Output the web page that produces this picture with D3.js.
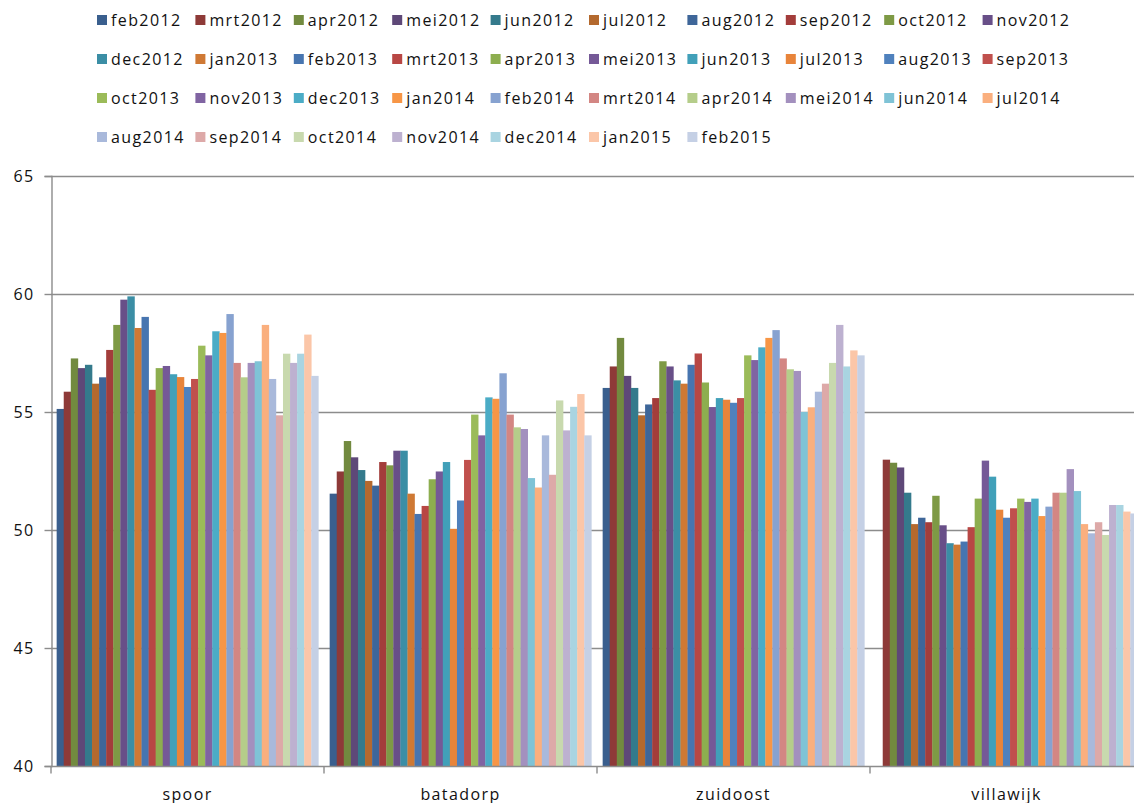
<!DOCTYPE html>
<html>
<head>
<meta charset="utf-8">
<script src="https://cdn.jsdelivr.net/npm/d3@7"></script>
<style>
  html, body { margin: 0; padding: 0; background: #fff; }
  svg text { font-family: "Open Sans", sans-serif; font-size: 16px; letter-spacing: 1.4px; fill: #111; }
</style>
</head>
<body>
<svg id="chart" width="1134" height="803"></svg>
<script>
const categories = ["spoor", "batadorp", "zuidoost", "villawijk"];
const seriesNames = [
  "feb2012","mrt2012","apr2012","mei2012","jun2012","jul2012","aug2012","sep2012","oct2012","nov2012",
  "dec2012","jan2013","feb2013","mrt2013","apr2013","mei2013","jun2013","jul2013","aug2013","sep2013",
  "oct2013","nov2013","dec2013","jan2014","feb2014","mrt2014","apr2014","mei2014","jun2014","jul2014",
  "aug2014","sep2014","oct2014","nov2014","dec2014","jan2015","feb2015"
];
const seriesColors = [
  "#3a5f8e","#8e3a38","#728a3f","#5e4878","#347a8c","#b4692e",
  "#3e6699","#a33d3b","#7e9a45","#684f88","#3b8ea5","#cf7934",
  "#4775b0","#b84744","#8dae4f","#755997","#41a0b9","#e8843a",
  "#4f81bd","#c0504d","#9bbb59","#8064a2","#4bacc6","#f79646",
  "#87a2d0","#d38683","#b5cd8a","#a390be","#7fc3d6","#faaf7e",
  "#a9b9db","#dda9a8","#c8d9ae","#bdb1d0","#a9d4e1","#fbc6a8",
  "#c5d0e5"
];
const spoor = [55.13,55.86,57.27,56.86,57.0,56.2,56.47,57.63,58.69,59.76,
  59.9,58.56,59.03,55.94,56.86,56.95,56.6,56.48,56.06,56.4,
  57.81,57.4,58.42,58.35,59.15,57.08,56.47,57.08,57.15,58.69,
  56.4,54.86,57.47,57.08,57.47,58.28,56.53];
const batadorp = [51.54,52.48,53.77,53.08,52.54,52.08,51.88,52.88,52.74,53.36,
  53.36,51.54,50.68,51.02,52.15,52.48,52.88,50.05,51.25,52.97,
  54.89,54.01,55.62,55.56,56.64,54.89,54.35,54.28,52.2,51.8,
  54.01,52.34,55.49,54.22,55.22,55.76,54.01];
const zuidoost = [56.02,56.93,58.14,56.53,56.02,54.86,55.32,55.59,57.15,56.93,
  56.34,56.2,57.0,57.48,56.25,55.21,55.59,55.52,55.39,55.59,
  57.4,57.2,57.74,58.14,58.47,57.27,56.81,56.74,55.0,55.2,
  55.86,56.2,57.08,58.69,56.93,57.61,57.4];
const villawijk = [null,52.98,52.85,52.65,51.58,50.25,50.52,50.33,51.45,50.2,
  49.44,49.38,49.51,50.12,51.33,52.94,52.26,50.86,50.52,50.92,
  51.33,51.19,51.33,50.59,50.99,51.58,51.58,52.58,51.65,50.25,
  49.86,50.33,49.79,51.06,51.06,50.78,50.7];
const yTicks = [40, 45, 50, 55, 60, 65];

const valuesByCategory = [spoor, batadorp, zuidoost, villawijk];

const svg = d3.select("#chart");
const plotLeft = 51, plotRight = 1143, plotTop = 176, plotBottom = 766;

const x0 = d3.scaleBand().domain(categories).range([plotLeft, plotRight]).padding(0);
const x1 = d3.scaleBand().domain(seriesNames).range([0, x0.bandwidth()]).paddingInner(0).paddingOuter(0.8);
const y = d3.scaleLinear().domain([40, 65]).range([plotBottom, plotTop]);
const color = d3.scaleOrdinal().domain(seriesNames).range(seriesColors);

// gridlines
svg.append("g").selectAll("line").data(yTicks.filter(t => t > 40)).join("line")
  .attr("x1", plotLeft).attr("x2", plotRight)
  .attr("y1", d => Math.round(y(d)) + 0.5).attr("y2", d => Math.round(y(d)) + 0.5)
  .attr("stroke", "#8c8c8c").attr("stroke-width", 1.4);

// bars
const groups = svg.append("g").selectAll("g").data(categories).join("g")
  .attr("transform", d => `translate(${x0(d)},0)`);
groups.each(function(cat, ci) {
  const vals = valuesByCategory[ci];
  const data = seriesNames.map((s, i) => ({ s, v: vals[i] })).filter(d => d.v != null);
  d3.select(this).selectAll("rect").data(data).join("rect")
    .attr("x", d => x1(d.s))
    .attr("width", x1.bandwidth() + 0.3)
    .attr("y", d => y(d.v))
    .attr("height", d => y(40) - y(d.v))
    .attr("fill", d => color(d.s));
});

// y axis
const yAxis = d3.axisLeft(y).tickValues(yTicks).tickSize(7).tickPadding(10);
const yg = svg.append("g").attr("transform", `translate(${plotLeft + 0.5},0)`).call(yAxis);
yg.select(".domain").attr("stroke", "#8c8c8c").attr("stroke-width", 1.4);
yg.selectAll(".tick line").attr("stroke", "#8c8c8c").attr("stroke-width", 1.4);
yg.attr("font-family", null).attr("font-size", null);

// x axis
const xg = svg.append("g").attr("transform", `translate(0,${plotBottom + 0.5})`);
xg.append("line").attr("x1", plotLeft).attr("x2", plotRight).attr("stroke", "#8c8c8c").attr("stroke-width", 1.4);
xg.selectAll("line.tk").data(categories).join("line").attr("class", "tk")
  .attr("x1", d => x0(d)).attr("x2", d => x0(d)).attr("y1", 0).attr("y2", 7)
  .attr("stroke", "#8c8c8c").attr("stroke-width", 1.4);
xg.selectAll("text").data(categories).join("text")
  .attr("x", d => x0(d) + x0.bandwidth() / 2).attr("y", 33)
  .attr("text-anchor", "middle").text(d => d);

// legend
const perRow = 10, colW = 98.4, legX = 97, legY = 20, rowH = 39;
const leg = svg.append("g").selectAll("g").data(seriesNames).join("g")
  .attr("transform", (d, i) => `translate(${legX + (i % perRow) * colW},${legY + Math.floor(i / perRow) * rowH})`);
leg.append("rect").attr("x", 0).attr("y", -5).attr("width", 10).attr("height", 10).attr("fill", d => color(d));
leg.append("text").attr("x", 14).attr("y", 0).attr("dy", "0.36em").text(d => d);
</script>
</body>
</html>
